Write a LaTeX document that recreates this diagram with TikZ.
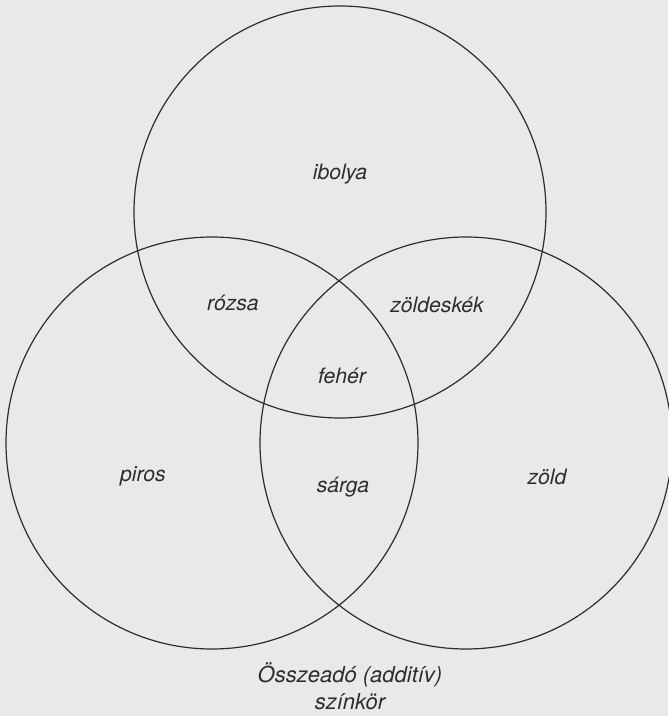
\documentclass[tikz,border=0pt]{standalone}
\usepackage{fontspec}
\setsansfont{TeX Gyre Heros}
\usepackage{tikz}
\usetikzlibrary{positioning}
\definecolor{paper}{RGB}{233,233,232}
\definecolor{ink}{RGB}{45,45,45}

\begin{document}
\begin{tikzpicture}[x=0.5pt, y=-0.5pt]
  \tikzstyle{ring} = [draw=ink, line width=0.6pt]
  \tikzstyle{tag} = [inner sep=1pt, text=ink, font=\sffamily\itshape\fontsize{10.6}{12}\selectfont]
  \tikzstyle{caption} = [tag, align=center, font=\sffamily\itshape\fontsize{11}{13.5}\selectfont]

  % paper and page size
  \fill[paper] (0,0) rectangle (668,716);
  \useasboundingbox (0,0) rectangle (668,716);

  % centres of the three colour circles
  \coordinate (cTop) at (340,212);
  \coordinate (cLeft) at (212,443);
  \coordinate (cRight) at (466,443);

  \draw[ring] (cTop) circle[radius=103pt];
  \draw[ring] (cLeft) circle[radius=103pt];
  \draw[ring] (cRight) circle[radius=103pt];

  % region labels
  \node[tag] (ibolya) at (340,174) {ibolya};
  \node[tag] (rozsa) at (233,303) {rózsa};
  \node[tag] (zoldeskek) at (437,305) {zöldeskék};
  \node[tag] (feher) at (342,376) {fehér};
  \node[tag] (sarga) at (343,487) {sárga};
  \node[tag] (piros) at (143,476) {piros};
  \node[tag] (zold) at (547,477) {zöld};

  \node[caption] (title) at (350,686) {Összeadó (additív)\\színkör};
\end{tikzpicture}
\end{document}
